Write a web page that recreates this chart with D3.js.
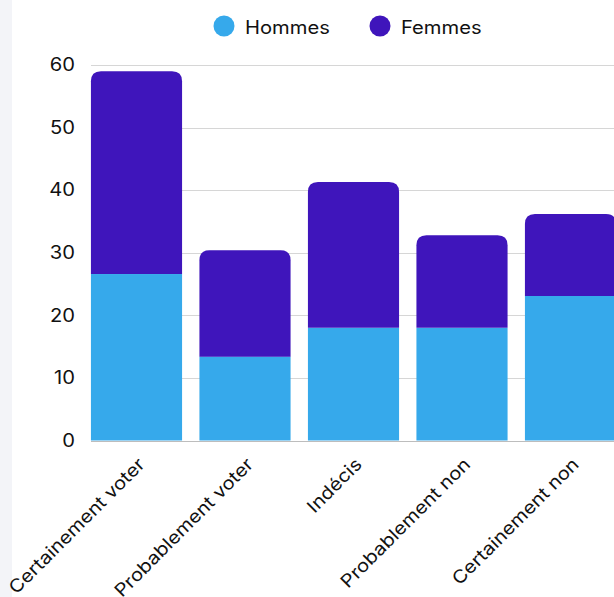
<!DOCTYPE html>
<html>
<head>
<meta charset="utf-8">
<script src="https://cdn.jsdelivr.net/npm/d3@7"></script>
<style>
  html, body { margin: 0; padding: 0; background: #fff; overflow: hidden; }
  svg { display: block; font-family: Inter, "Noto Sans", sans-serif; }
</style>
</head>
<body>
<svg id="chart" width="614" height="597"></svg>
<script>
// Intention de vote, par sexe (en %)
const categories = ["Certainement voter", "Probablement voter", "Indécis", "Probablement non", "Certainement non"];
const hommes = [26.6, 13.4, 18.0, 18.0, 23.1];
const femmes = [32.4, 17.0, 23.3, 14.8, 13.1];
const seriesNames = ["Hommes", "Femmes"];
const seriesColors = ["#36a9eb", "#3f15bb"];
const yTicks = [0, 10, 20, 30, 40, 50, 60];

const svg = d3.select("#chart");
const W = 614, H = 597;
const WIDEN = 1.12; // wider glyph set

// side panel strip on the left
svg.append("rect").attr("x", 0).attr("y", 0).attr("width", 12).attr("height", H).attr("fill", "#f3f4f8");

const x = d3.scaleBand().domain(categories).range([82.25, 624.75]).paddingInner(0.16).paddingOuter(0.08);
const y = d3.scaleLinear().domain([0, 60]).range([440.5, 65]);

// grid
const grid = svg.append("g");
grid.selectAll("line").data(yTicks).join("line")
  .attr("x1", 91).attr("x2", 630)
  .attr("y1", d => Math.round(y(d)) + 0.5).attr("y2", d => Math.round(y(d)) + 0.5)
  .attr("stroke", d => d === 0 ? "#bdbdbd" : "#d6d6d6").attr("stroke-width", 1);

// y tick labels
svg.append("g").selectAll("text").data(yTicks).join("text")
  .attr("transform", d => `translate(75,${y(d)}) scale(${WIDEN},1)`)
  .attr("dy", "0.35em")
  .attr("text-anchor", "end")
  .attr("font-size", 18)
  .attr("fill", "#111")
  .text(d => d);

// stacked data
const rows = categories.map((c, i) => ({ cat: c, Hommes: hommes[i], Femmes: femmes[i] }));
const stack = d3.stack().keys(seriesNames)(rows);

function topRounded(x0, y0, w, h, r) {
  r = Math.min(r, h, w / 2);
  return `M${x0},${y0 + h}V${y0 + r}Q${x0},${y0} ${x0 + r},${y0}H${x0 + w - r}Q${x0 + w},${y0} ${x0 + w},${y0 + r}V${y0 + h}Z`;
}

stack.forEach((layer, li) => {
  const g = svg.append("g");
  layer.forEach((d, i) => {
    const x0 = x(categories[i]);
    const yTop = y(d[1]);
    const yBot = y(d[0]);
    const w = x.bandwidth();
    if (li === stack.length - 1) {
      g.append("path").attr("d", topRounded(x0, yTop, w, yBot - yTop, 10))
        .attr("fill", seriesColors[li]);
    } else {
      g.append("rect").attr("x", x0).attr("y", yTop).attr("width", w).attr("height", yBot - yTop)
        .attr("fill", seriesColors[li]);
    }
  });
});

// x labels, rotated
svg.append("g").selectAll("text").data(categories).join("text")
  .attr("transform", d => `translate(${x(d) + x.bandwidth() / 2 + 5},${461}) rotate(-45) scale(${WIDEN},1)`)
  .attr("text-anchor", "end")
  .attr("dy", "0.35em")
  .attr("font-size", 18)
  .attr("fill", "#111")
  .text(d => d);

// legend
const legend = svg.append("g");
const legendItems = [{ name: "Hommes", cx: 224, tx: 245 }, { name: "Femmes", cx: 380, tx: 401 }];
legendItems.forEach((it, i) => {
  legend.append("circle").attr("cx", it.cx).attr("cy", 26).attr("r", 10.5).attr("fill", seriesColors[i]);
  legend.append("text").attr("transform", `translate(${it.tx},27.5) scale(${WIDEN},1)`).attr("dy", "0.35em")
    .attr("font-size", 18).attr("fill", "#111").text(it.name);
});
</script>
</body>
</html>
